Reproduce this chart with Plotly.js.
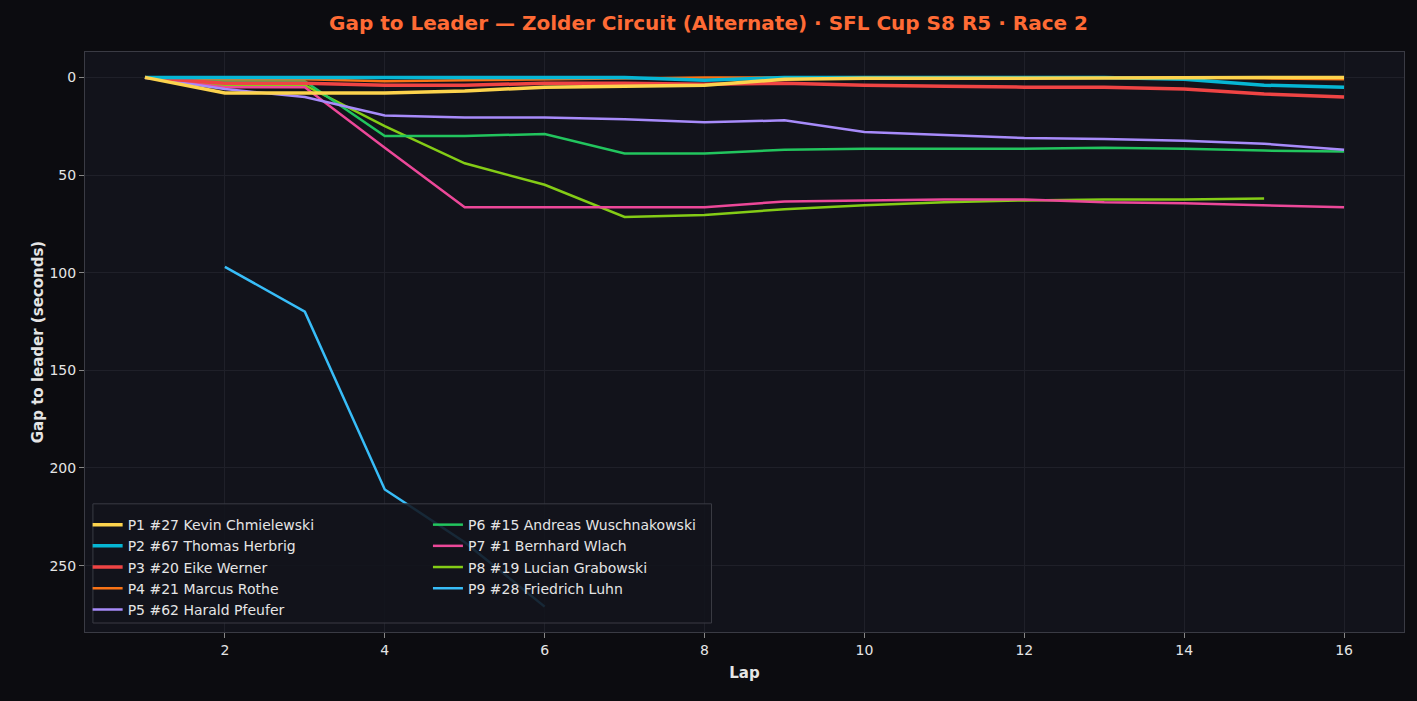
<!DOCTYPE html>
<html>
<head>
<meta charset="utf-8">
<script src="https://cdn.plot.ly/plotly-3.0.1.min.js"></script>
<style>body{margin:0;background:#0c0c10;}#chart{width:1417px;height:701px;}</style>
</head>
<body>
<div id="chart"></div>
<script>
const laps = [1,2,3,4,5,6,7,8,9,10,11,12,13,14,15,16];
const drivers = [
  'P1 #27 Kevin Chmielewski', 'P2 #67 Thomas Herbrig', 'P3 #20 Eike Werner',
  'P4 #21 Marcus Rothe', 'P5 #62 Harald Pfeufer', 'P6 #15 Andreas Wuschnakowski',
  'P7 #1 Bernhard Wlach', 'P8 #19 Lucian Grabowski', 'P9 #28 Friedrich Luhn'
];
const colors = ['#fcd34d','#06b6d4','#ef4444','#f97316','#a78bfa','#22c55e','#ec4899','#84cc16','#38bdf8'];
const gapP1 = [0,8,8,8,7,5,4.5,4,1,0.5,0.5,0.3,0,0,0,0];
const gapP2 = [0,0,0,0,0,0,0,1.5,0,0,0,0,0,1,4,5];
const gapP3 = [0,3,3,4,4,3,3,3.5,3,4,4.5,5,5,6,8.5,10];
const gapP4 = [0,1,1,2,1.5,1,0.5,0,0,0,0,0,0,0,0.5,1];
const gapP5 = [0,6,10,19.5,20.5,20.5,21.5,23,22,28,29.5,31,31.5,32.5,34,37];
const gapP6 = [0,2,2,30,30,29,39,39,37,36.5,36.5,36.5,36,36.5,37.5,38];
const gapP7 = [0,5,5,36,66.5,66.5,66.5,66.5,63.5,63,62.5,62.5,64,64.5,65.5,66.5];
const gapP8 = [0,4,4,25,44,55,71.5,70.5,67.5,65.5,64,63,62.5,62.5,62];
const gapP9 = [null,97,120,211,238,271];
const gaps = [gapP1,gapP2,gapP3,gapP4,gapP5,gapP6,gapP7,gapP8,gapP9];
const widths = [3.5,3.5,3.5,2.5,2.5,2.5,2.5,2.5,2.5];

let data = [];
for (let i = drivers.length - 1; i >= 0; i--) {
  data.push({
    x: laps.slice(0, gaps[i].length), y: gaps[i], name: drivers[i],
    type: 'scatter', mode: 'lines',
    legend: i < 5 ? 'legend' : 'legend2',
    line: {color: colors[i], width: widths[i]}
  });
}

const legendBase = {
  y: 0.212, yanchor: 'top', xanchor: 'left', bgcolor: 'rgba(0,0,0,0)',
  borderwidth: 0, font: {size: 14, color: '#e5e5e5'}, traceorder: 'reversed', tracegroupgap: 0
};

const layout = {
  paper_bgcolor: '#0c0c10', plot_bgcolor: '#12131b',
  font: {family: 'DejaVu Sans', color: '#e5e5e5', size: 14},
  title: {text: '<b>Gap to Leader — Zolder Circuit (Alternate) · SFL Cup S8 R5 · Race 2</b>',
          font: {size: 20, color: '#ff6b35'}, x: 0.5, y: 0.967, yanchor: 'middle'},
  margin: {l: 85, r: 13, t: 52, b: 69},
  xaxis: {title: {text: '<b>Lap</b>', font: {size: 15}, standoff: 10}, range: [0.25, 16.75],
          tickvals: [2,4,6,8,10,12,14,16], gridcolor: '#1f2029', zeroline: false,
          showline: true, linecolor: '#3a3b44', mirror: true, ticks: 'outside', tickcolor: '#888'},
  yaxis: {title: {text: '<b>Gap to leader (seconds)</b>', font: {size: 15}}, range: [284, -13],
          tickvals: [0,50,100,150,200,250], gridcolor: '#1f2029', zeroline: false,
          showline: true, linecolor: '#3a3b44', mirror: true, ticks: 'outside', tickcolor: '#888'},
  legend: Object.assign({x: 0.002}, legendBase),
  legend2: Object.assign({x: 0.26}, legendBase),
  shapes: [{type: 'rect', xref: 'paper', yref: 'paper', x0: 0.006, x1: 0.475, y0: 0.0155, y1: 0.221,
            fillcolor: 'rgba(18,19,27,0.88)', line: {color: '#3a3b44', width: 1}, layer: 'above'}],
  showlegend: true
};
Plotly.newPlot('chart', data, layout, {displayModeBar: false});
</script>
</body>
</html>
